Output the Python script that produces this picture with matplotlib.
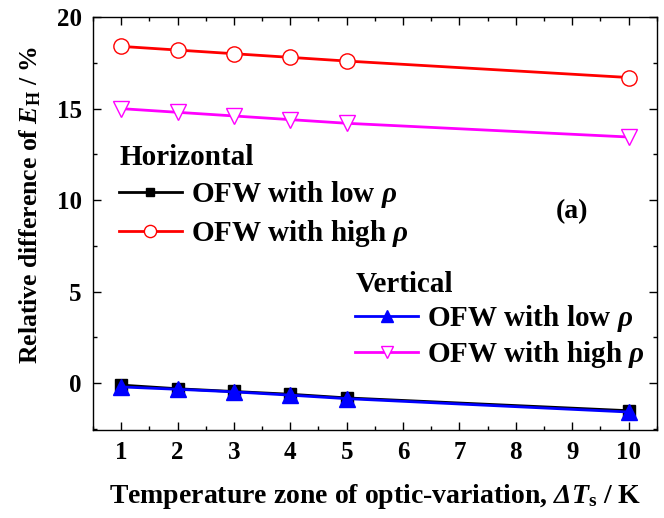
"""
Relative difference of E_H versus temperature zone of optic-variation,
for OFW with low / high rho, horizontal and vertical orientations.
"""

import matplotlib
matplotlib.use("Agg")
import matplotlib.pyplot as plt
from matplotlib.ticker import MultipleLocator

plt.rcParams["font.family"] = "Liberation Serif"
plt.rcParams["font.weight"] = "bold"
plt.rcParams["mathtext.fontset"] = "custom"
plt.rcParams["mathtext.rm"] = "Liberation Serif:bold"
plt.rcParams["mathtext.it"] = "Liberation Serif:italic:bold"
plt.rcParams["mathtext.bf"] = "Liberation Serif:bold"
plt.rcParams["mathtext.sf"] = "Liberation Serif:italic:bold"

delta_t = [1, 2, 3, 4, 5, 10]

horiz_low = [-0.1, -0.3, -0.45, -0.6, -0.8, -1.5]
horiz_high = [18.4, 18.2, 18.0, 17.8, 17.6, 16.7]
vert_low = [-0.2, -0.33, -0.47, -0.65, -0.84, -1.57]
vert_high = [15.0, 14.8, 14.6, 14.4, 14.2, 13.45]

x_ticks = [1, 2, 3, 4, 5, 6, 7, 8, 9, 10]
y_ticks = [0, 5, 10, 15, 20]

TICK_FS = 18
XLABEL_FS = 20
YLABEL_FS = 18.5
LEG_FS = 21
LW = 2.0


def main():
    fig = plt.figure(figsize=(6.64, 5.18), dpi=100)
    ax = fig.add_axes([0.140, 0.170, 0.849, 0.797])

    h1, = ax.plot(delta_t, horiz_low, color="black", lw=LW, marker="s",
                  ms=8, mfc="black", mec="black", label=r"OFW with low $\rho$")
    h2, = ax.plot(delta_t, horiz_high, color="red", lw=LW, marker="o",
                  ms=11, mfc="white", mec="red", mew=1.0,
                  label=r"OFW with high $\rho$")
    v1, = ax.plot(delta_t, vert_low, color="blue", lw=LW, marker="^",
                  ms=11, mfc="blue", mec="blue", label=r"OFW with low $\rho$")
    v2, = ax.plot(delta_t, vert_high, color="magenta", lw=LW, marker="v",
                  ms=11, mfc="white", mec="magenta", mew=1.0,
                  label=r"OFW with high $\rho$")

    ax.set_xlim(0.5, 10.5)
    ax.set_ylim(-2.55, 20)
    ax.set_xticks(x_ticks)
    ax.set_yticks(y_ticks)
    ax.xaxis.set_minor_locator(MultipleLocator(0.5))
    ax.yaxis.set_minor_locator(MultipleLocator(2.5))
    ax.tick_params(which="both", direction="in", top=True, right=True,
                   labelsize=TICK_FS, width=1.0)
    ax.tick_params(which="major", length=6, pad=8)
    ax.tick_params(which="minor", length=3)
    for sp in ax.spines.values():
        sp.set_linewidth(1.0)

    ax.set_xlabel(r"Temperature zone of optic-variation, $\mathsf{\Delta}T_{\mathrm{s}}$ / K",
                  fontsize=XLABEL_FS, fontweight="bold")
    ax.set_ylabel(r"Relative difference of $E_{\mathrm{H}}$ / %",
                  fontsize=YLABEL_FS, fontweight="bold")
    ax.xaxis.set_label_coords(0.5, -0.125)
    ax.yaxis.set_label_coords(-0.088, 0.545)

    leg_kw = dict(frameon=False, prop={"size": LEG_FS, "weight": "bold"},
                  title_fontproperties={"size": LEG_FS, "weight": "bold"},
                  alignment="left", handlelength=2.15, handletextpad=0.3,
                  markerscale=0.8, borderpad=0.2, borderaxespad=0.0)
    leg1 = ax.legend(handles=[h1, h2], title="Horizontal", loc="upper left",
                     bbox_to_anchor=(0.036, 0.707), labelspacing=0.28, **leg_kw)
    ax.add_artist(leg1)
    ax.legend(handles=[v1, v2], title="Vertical", loc="upper left",
              bbox_to_anchor=(0.455, 0.40), labelspacing=0.18, **leg_kw)

    ax.text(9.0, 9.4, "(a)", fontsize=XLABEL_FS, fontweight="bold",
            ha="center", va="center")

    fig.savefig("out.png", dpi=100)
    plt.close(fig)


if __name__ == "__main__":
    main()
